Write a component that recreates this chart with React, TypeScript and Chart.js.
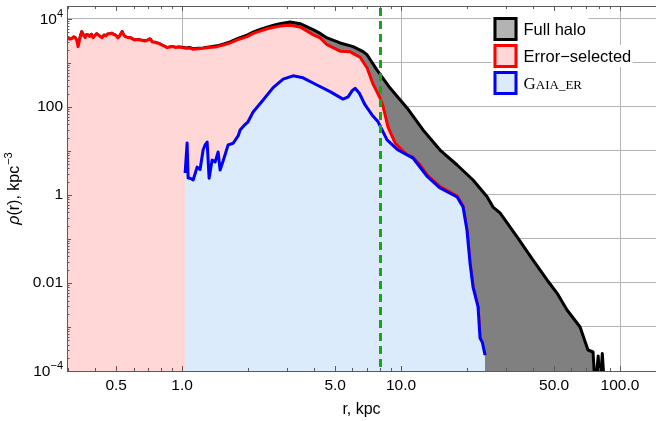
import React, { useEffect, useRef } from 'react';
import { Chart, registerables } from 'chart.js';

Chart.register(...registerables);

// ---------- data ----------
const fullHaloR = [0.298,0.306,0.313,0.319,0.325,0.330,0.335,0.341,0.348,0.354,0.361,0.366,0.372,0.378,0.385,0.392,0.400,0.407,0.414,0.422,0.431,0.440,0.448,0.455,0.467,0.479,0.487,0.495,0.503,0.510,0.520,0.532,0.540,0.549,0.563,0.579,0.594,0.610,0.626,0.643,0.660,0.678,0.695,0.714,0.730,0.750,0.769,0.790,0.810,0.830,0.854,0.880,0.909,0.935,0.965,1.0,1.04,1.08,1.123,1.18,1.247,1.33,1.445,1.55,1.656,1.80,1.981,2.11,2.27,2.445,2.62,2.80,3.11,3.46,3.96,4.27,4.59,5.27,6.04,6.71,7.00,7.77,8.91,10.65,12.6,15.07,18.03,21.32,24.71,26.3,28.31,33.87,40.07,46.43,51.55,57.3,65.7,71.4,75.3,77.0,79.5,81.0,83.0,85.0];
const fullHaloRho = [3700,3500,3550,3900,3760,3300,2350,3600,5140,4300,3760,4400,4330,4000,4500,3760,4200,4600,4330,4000,3760,4300,4100,4490,4600,4730,4400,4330,4000,3700,4200,5140,4400,3960,3800,3760,3500,3330,3400,3330,3250,3160,3300,3510,3000,2950,2850,2700,2550,2400,2230,2300,2350,2250,2300,2280,2200,2250,2100,2150,2200,2300,2450,2700,3000,3600,4300,5000,5800,6500,7200,7800,8500,7800,5700,4700,3700,2850,2350,1810,1520,690,269,95,30,10.5,4.8,2.19,0.91,0.53,0.39,0.111,0.033,0.0117,0.0059,0.00243,0.001,0.0003,0.00027,0.00004,0.00022,0.00004,0.00025,0.00004];

const errorSelR = [0.298,0.306,0.313,0.319,0.325,0.330,0.335,0.341,0.348,0.354,0.361,0.366,0.372,0.378,0.385,0.392,0.400,0.407,0.414,0.422,0.431,0.440,0.448,0.455,0.467,0.479,0.487,0.495,0.503,0.510,0.520,0.532,0.540,0.549,0.563,0.579,0.594,0.610,0.626,0.643,0.660,0.678,0.695,0.714,0.730,0.750,0.769,0.790,0.810,0.830,0.854,0.880,0.909,0.935,0.965,1.0,1.04,1.08,1.123,1.18,1.247,1.33,1.445,1.55,1.656,1.80,1.981,2.11,2.27,2.445,2.62,2.80,3.11,3.46,3.96,4.27,4.59,5.27,5.85,6.17,6.50,7.00,7.45,8.02,8.28,8.72,9.39,10.0,10.65,11.34,12.21,13.2,15.07,18.03,19.19,20.0,20.65,21.32,22.47,22.94,24.19];
const errorSelRho = [3700,3500,3550,3900,3760,3300,2350,3600,5140,4300,3760,4400,4330,4000,4500,3760,4200,4600,4330,4000,3760,4300,4100,4490,4600,4730,4400,4330,4000,3700,4200,5140,4400,3960,3800,3760,3500,3330,3400,3330,3250,3160,3300,3510,3000,2950,2850,2700,2550,2400,2230,2300,2350,2250,2300,2230,2150,2200,2050,2100,2150,2250,2350,2600,2850,3400,3960,4700,5300,6000,6500,6900,7200,6600,4400,3700,2600,1850,1800,1550,1350,770,330,160,102,35,15.2,11,8.1,7.2,4.8,2.8,1.55,0.95,0.56,0.16,0.029,0.0083,0.0029,0.00057,0.00023];

const gaiaR = [1.032,1.054,1.065,1.088,1.123,1.171,1.208,1.247,1.274,1.301,1.328,1.371,1.415,1.460,1.491,1.539,1.622,1.710,1.802,1.84,1.92,2.0,2.11,2.344,2.604,2.892,3.21,3.568,4.13,4.74,5.43,5.73,5.98,6.166,6.45,6.85,7.37,7.85,8.63,9.69,11.34,13.2,15.07,18.03,19.19,20.0,20.65,21.32,22.47,22.94,23.5,24.19];
const gaiaRho = [3.16,15.2,2.43,2.4,2.19,4.3,3.8,10.5,13.8,16,2.4,6.2,5.6,9.5,3.7,5.9,13.8,15,22,30,38,46,77,144,275,430,510,460,316,223,151,170,235,265,205,111,66,46,17.8,10.5,6.9,2.6,1.44,0.90,0.53,0.158,0.0285,0.0081,0.00285,0.00056,0.00045,0.00023];

const sunRadius = 8.0;

const seriesNames = ['Full halo', 'Error\u2212selected', 'GAIA_ER'];

const xTickValues = [0.5, 1, 5, 10, 50, 100];
const xTickLabels = ['0.5', '1.0', '5.0', '10.0', '50.0', '100.0'];
const xGridValues = [1, 10, 100];

const yTickValues = [1e-4, 1e-3, 0.01, 0.1, 1, 10, 100, 1000, 1e4];
const yTickLabels = ['10^\u22124', '', '0.01', '', '1', '', '100', '', '10^4'];

const xAxisTitle = 'r, kpc';
const yAxisTitle = ['\u03C1', '(r), kpc', '\u22123'];

// ---------- style ----------
const X_MIN = 0.298, X_MAX = 146, Y_MIN = 1e-4, Y_MAX = 19700;
const GRID = '#b4b4b4';
const FRAME = '#5a5a5a';
const SANS = '"Liberation Sans", Arial, Helvetica, sans-serif';
const SERIF = '"Liberation Serif", "Times New Roman", serif';
const TICK_SIZE = 15.5;

const near = (a: number, b: number) => Math.abs(a - b) <= Math.abs(b) * 1e-6;

const decorPlugin = {
  id: 'decor',
  afterDatasetsDraw(chart: any) {
    const { ctx, chartArea: a, scales } = chart;
    const x = Math.round(scales.x.getPixelForValue(sunRadius)) + 0.5;
    ctx.save();
    ctx.beginPath();
    ctx.rect(a.left, a.top, a.right - a.left, a.bottom - a.top);
    ctx.clip();
    ctx.strokeStyle = '#14a814';
    ctx.lineWidth = 3;
    ctx.setLineDash([8, 5]);
    ctx.beginPath();
    ctx.moveTo(x, a.top + 2);
    ctx.lineTo(x, a.bottom);
    ctx.stroke();
    ctx.restore();
  },
  afterDraw(chart: any) {
    const { ctx, chartArea: a, scales } = chart;
    const xs = scales.x, ys = scales.y;
    ctx.save();
    // frame
    ctx.strokeStyle = FRAME;
    ctx.lineWidth = 1;
    ctx.beginPath();
    ctx.moveTo(a.left + 0.5, a.top + 0.5);
    ctx.lineTo(a.right, a.top + 0.5);
    ctx.moveTo(a.left + 0.5, a.top);
    ctx.lineTo(a.left + 0.5, a.bottom + 0.5);
    ctx.lineTo(a.right, a.bottom + 0.5);
    ctx.stroke();
    // x ticks (bottom & top, pointing inward)
    ctx.beginPath();
    for (const d of [0.1, 1, 10, 100]) {
      for (let m = 1; m <= 9; m++) {
        const v = m * d;
        if (v < X_MIN || v > X_MAX) continue;
        const major = xTickValues.some((t) => near(v, t));
        const len = major ? 5 : 3;
        const px = Math.round(xs.getPixelForValue(v)) + 0.5;
        ctx.moveTo(px, a.bottom);
        ctx.lineTo(px, a.bottom - len);
        ctx.moveTo(px, a.top);
        ctx.lineTo(px, a.top + len);
      }
    }
    // y ticks
    for (let e = -4; e <= 4; e++) {
      for (let m = 1; m <= 9; m++) {
        const v = m * Math.pow(10, e);
        if (v < Y_MIN * 0.999 || v > Y_MAX) continue;
        const idx = yTickValues.findIndex((t) => near(v, t));
        const len = idx >= 0 ? (yTickLabels[idx] ? 5 : 4) : 2.5;
        const py = Math.round(ys.getPixelForValue(v)) + 0.5;
        ctx.moveTo(a.left, py);
        ctx.lineTo(a.left + len, py);
      }
    }
    ctx.stroke();

    // superscripted y labels
    ctx.fillStyle = '#000';
    yTickValues.forEach((v, i) => {
      const lab = yTickLabels[i];
      if (!lab.includes('^')) return;
      const [base, exp] = lab.split('^');
      const py = ys.getPixelForValue(v);
      ctx.font = `${TICK_SIZE}px ${SANS}`;
      const wb = ctx.measureText(base).width;
      ctx.font = `11px ${SANS}`;
      const we = ctx.measureText(exp).width;
      const right = a.left - 4;
      ctx.textBaseline = 'middle';
      ctx.textAlign = 'left';
      ctx.font = `${TICK_SIZE}px ${SANS}`;
      ctx.fillText(base, right - we - wb, py + 1);
      ctx.font = `11px ${SANS}`;
      ctx.fillText(exp, right - we, py - 5);
    });

    // axis titles
    ctx.font = `16px ${SANS}`;
    ctx.textAlign = 'center';
    ctx.textBaseline = 'alphabetic';
    ctx.fillText(xAxisTitle, (a.left + a.right) / 2, 413.5);

    ctx.save();
    ctx.translate(0, (a.top + a.bottom) / 2);
    ctx.rotate(-Math.PI / 2);
    ctx.font = `italic 16px ${SANS}`;
    const w0 = ctx.measureText(yAxisTitle[0]).width;
    ctx.font = `16px ${SANS}`;
    const w1 = ctx.measureText(yAxisTitle[1]).width;
    ctx.font = `11px ${SANS}`;
    const w2 = ctx.measureText(yAxisTitle[2]).width;
    let tx = -(w0 + w1 + w2 + 1) / 2;
    ctx.textAlign = 'left';
    ctx.font = `italic 16px ${SANS}`;
    ctx.fillText(yAxisTitle[0], tx, 18.5);
    tx += w0;
    ctx.font = `16px ${SANS}`;
    ctx.fillText(yAxisTitle[1], tx, 18.5);
    tx += w1 + 1;
    ctx.font = `11px ${SANS}`;
    ctx.fillText(yAxisTitle[2], tx, 11.5);
    ctx.restore();

    // legend
    const items = [
      { stroke: '#000000', fill: '#b3b3b3', cy: 29, bgW: 97 },
      { stroke: '#ff0000', fill: '#ffd7d7', cy: 56, bgW: 141 },
      { stroke: '#0000ff', fill: '#dbebfc', cy: 83, bgW: 90 },
    ];
    const boxL = 493.5, boxS = 24, textX = 523.5;
    items.forEach((it, i) => {
      ctx.fillStyle = '#ffffff';
      ctx.fillRect(boxL - 2, it.cy - 11, it.bgW, 22);
      ctx.fillStyle = it.fill;
      ctx.fillRect(boxL, it.cy - boxS / 2, boxS, boxS);
      ctx.strokeStyle = it.stroke;
      ctx.lineWidth = 3;
      ctx.strokeRect(boxL + 1.5, it.cy - boxS / 2 + 1.5, boxS - 3, boxS - 3);
      ctx.fillStyle = '#000';
      ctx.textAlign = 'left';
      const name = seriesNames[i];
      if (i === 2) {
        ctx.textBaseline = 'alphabetic';
        ctx.font = `17px ${SERIF}`;
        ctx.fillText(name[0], textX, it.cy + 6);
        const wg = ctx.measureText(name[0]).width;
        ctx.font = `13px ${SERIF}`;
        ctx.fillText(name.slice(1), textX + wg, it.cy + 6);
      } else {
        ctx.textBaseline = 'middle';
        ctx.font = `16.5px ${SANS}`;
        ctx.fillText(name, textX, it.cy + 1);
      }
    });
    ctx.restore();
  },
};

const pts = (r: number[], v: number[]) => r.map((x, i) => ({ x, y: v[i] }));

export default function App() {
  const ref = useRef<HTMLCanvasElement | null>(null);
  useEffect(() => {
    if (!ref.current) return;
    const common = {
      pointRadius: 0,
      borderWidth: 3,
      tension: 0,
      fill: 'start',
      clip: 0,
      borderJoinStyle: 'round',
    };
    const chart = new Chart(ref.current, {
      type: 'line',
      data: {
        datasets: [
          { ...common, label: seriesNames[2], data: pts(gaiaR, gaiaRho), borderColor: '#0000ff', backgroundColor: '#dbebfc' },
          { ...common, label: seriesNames[1], data: pts(errorSelR, errorSelRho), borderColor: '#ff0000', backgroundColor: '#ffd7d7' },
          { ...common, label: seriesNames[0], data: pts(fullHaloR, fullHaloRho), borderColor: '#000000', backgroundColor: '#808080' },
        ] as any,
      },
      options: {
        responsive: false,
        animation: false,
        events: [],
        layout: { padding: { top: 6, left: 0, right: 0, bottom: 0 } },
        plugins: { legend: { display: false }, tooltip: { enabled: false } },
        scales: {
          x: {
            type: 'logarithmic',
            min: X_MIN,
            max: X_MAX,
            bounds: 'data',
            afterBuildTicks: (s: any) => {
              s.ticks = xTickValues.map((v) => ({ value: v }));
            },
            afterFit: (s: any) => {
              s.height = 50;
              s.paddingLeft = 0;
              s.paddingRight = 0;
            },
            grid: {
              drawTicks: false,
              color: (c: any) => (xGridValues.some((g) => near(c.tick?.value, g)) ? GRID : 'rgba(0,0,0,0)'),
            },
            border: { display: false },
            ticks: {
              autoSkip: false,
              maxRotation: 0,
              padding: 5,
              color: '#000',
              font: { size: TICK_SIZE, family: SANS },
              callback: (value: any) => {
                const i = xTickValues.findIndex((t) => near(Number(value), t));
                return i >= 0 ? xTickLabels[i] : '';
              },
            },
          },
          y: {
            type: 'logarithmic',
            min: Y_MIN,
            max: Y_MAX,
            bounds: 'data',
            afterBuildTicks: (s: any) => {
              s.ticks = yTickValues.map((v) => ({ value: v }));
            },
            afterFit: (s: any) => {
              s.width = 67;
              s.paddingTop = 0;
              s.paddingBottom = 0;
            },
            grid: { drawTicks: false, color: GRID },
            border: { display: false },
            ticks: {
              autoSkip: false,
              padding: 4,
              color: '#000',
              font: { size: TICK_SIZE, family: SANS },
              callback: (value: any) => {
                const i = yTickValues.findIndex((t) => near(Number(value), t));
                if (i < 0) return '';
                const lab = yTickLabels[i];
                return lab.includes('^') ? '' : lab;
              },
            },
          },
        },
      } as any,
      plugins: [decorPlugin],
    });
    return () => chart.destroy();
  }, []);
  return (
    <div style={{ position: 'fixed', left: 0, top: 0, width: 656, height: 421, background: '#fff' }}>
      <canvas ref={ref} width={656} height={421} style={{ display: 'block' }} />
    </div>
  );
}
